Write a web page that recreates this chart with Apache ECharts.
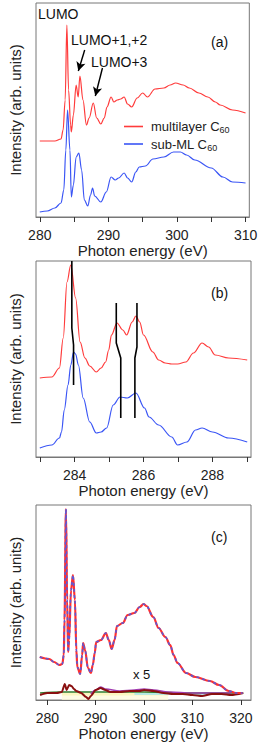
<!DOCTYPE html>
<html><head><meta charset="utf-8">
<script src="https://cdn.jsdelivr.net/npm/echarts@6/dist/echarts.min.js"></script>
<style>html,body{margin:0;padding:0;background:#fff}#c{width:260px;height:742px}</style>
</head><body><div id="c"></div>
<script>
// ---- Panel (a): NEXAFS spectra, [photon energy eV, intensity arb.] ----
const aMultilayer = [[280.0,76],[282.2,76],[283.1,78],[283.4,87],[283.7,117],[283.95,192],[284.2,127],[284.5,92],[284.6,85],[284.9,102],[285.3,132],[285.6,120],[285.85,141],[286.3,117],[286.8,92],[287.2,99],[287.8,114],[288.3,99],[288.9,93],[289.4,99],[289.8,110],[290.4,120],[290.8,115],[291.3,117],[291.8,118],[292.3,120],[292.8,113],[293.4,110],[294.2,119],[295.0,124],[295.7,120],[296.8,128],[298.1,129],[299.0,132],[299.8,134],[300.9,132],[301.8,129],[303.2,124],[304.5,120],[305.6,115],[306.3,112],[308.1,107],[310.0,104]];
const aSubML = [[280.0,5],[281.1,6],[282.2,9],[283.1,14],[283.5,27],[283.8,67],[284.05,107],[284.4,67],[284.6,20],[284.9,32],[285.3,60],[285.7,64],[286.1,47],[286.5,17],[287.0,11],[287.4,22],[287.7,29],[288.0,21],[288.9,15],[289.7,25],[290.4,40],[291.0,37],[291.5,39],[292.3,44],[292.8,39],[293.4,35],[294.0,45],[294.5,50],[295.4,51],[296.5,58],[298.1,60],[299.5,65],[300.5,65],[301.4,62],[302.6,57],[305.0,49],[306.7,40],[308.1,35],[310.0,34]];
const aTicks = [280,285,290,295,300,305,310];
const aLabels = [280,290,300,310];

// ---- Panel (b): zoom on the LUMO region ----
const bMultilayer = [[282.99,79],[283.34,80],[283.56,89],[283.67,119],[283.78,175],[283.89,192],[284.03,159],[284.16,115],[284.3,99],[284.44,91],[284.63,85],[284.77,89],[284.9,95],[284.99,107],[285.07,122],[285.23,134],[285.4,127],[285.51,122],[285.67,135],[285.78,141],[285.89,135],[286.0,122],[286.27,105],[286.44,97],[286.63,94],[286.82,93],[286.99,93],[287.23,95],[287.45,104],[287.7,114],[287.89,110],[288.08,102],[288.47,99],[289.01,97]];
const bSubML = [[282.99,9],[283.34,12],[283.56,19],[283.62,25],[283.7,47],[283.81,72],[283.89,92],[283.97,105],[284.03,103],[284.11,92],[284.25,59],[284.44,35],[284.63,24],[284.77,25],[284.93,29],[285.12,52],[285.32,60],[285.53,59],[285.78,64],[286.03,49],[286.16,40],[286.44,32],[286.82,20],[286.99,12],[287.26,15],[287.51,27],[287.7,29],[288.0,25],[288.47,19],[289.01,15]];
const bGuide1 = [[283.92,196],[283.92,129],[283.97,112],[283.97,72]];
const bGuide2 = [[285.21,154],[285.21,114],[285.34,99],[285.34,39]];
const bGuide3 = [[285.81,154],[285.81,110],[285.75,99],[285.75,39]];
const bTicks = [283,284,285,286,287,288,289];
const bLabels = [284,286,288];

// ---- Panel (c): overlaid spectra and difference traces (x 5) ----
const cSpectrum = [[278.44,43],[280.4,41],[281.4,38],[282.5,35],[283.1,36],[283.4,45],[283.55,80],[283.85,191],[284.1,100],[284.3,48],[284.5,60],[284.9,110],[285.3,125],[285.7,100],[286.0,50],[286.2,33],[286.8,26],[287.2,45],[287.4,57],[287.8,50],[288.4,32],[289.0,27],[289.4,35],[289.8,47],[290.1,58],[291.1,60],[292.1,67],[292.7,60],[293.3,51],[293.9,60],[294.4,74],[295.6,77],[296.6,85],[298.0,87],[299.1,93],[299.9,96],[300.5,94],[301.9,83],[303.0,72],[304.4,63],[305.4,55],[306.1,45],[306.9,37],[308.7,27],[310.6,23],[313.6,19],[315.5,15],[317.5,9],[319.0,7],[320.4,7]];
const cDiffRed = [[278.5,5],[280,7],[282,7],[283,8],[283.6,16],[284,10],[284.5,15],[285,14],[285.5,11],[286,9],[287,7],[288,3],[288.5,1],[289,4],[290,10],[291,12],[292,10],[293,8],[295,8],[297,9],[299,9],[300,10],[302,9],[304,7],[306,6],[308,6],[310,5],[312,4],[314,6],[316,6],[318,5],[320.5,7]];
const cDiffGreen = [[278.5,7],[283,8],[290,8],[300,8],[310,7],[315,7],[320.5,7]];
const cDiffPurple = [[289,6],[290,10],[291,13],[292,11],[295,9],[298,10],[300,11],[302,10],[305,8],[310,7],[318,7]];
const cDiffYellow = [[283,6],[290,6],[300,6],[305,6]];
const cDiffCyan = [[298,6],[305,6],[312,6],[318,6]];
const cTicks = [280,290,300,310,320];
const cLabels = [280,290,300,310,320];

const FONT = "'Liberation Sans', Arial, sans-serif";
const RED = '#ff3b3b', BLUE = '#3a55f5';

function xAx(grid, min, max, ticks, labels, nameGap) {
  return {
    type: 'value', gridIndex: grid, min: min, max: max, position: 'bottom',
    axisLine: {show: true, onZero: false, lineStyle: {color: '#777', width: 1}},
    axisTick: {show: true, length: 5, customValues: ticks, lineStyle: {color: '#333'}},
    axisLabel: {show: true, customValues: labels, margin: 11, fontSize: 14, color: '#222', fontFamily: FONT},
    splitLine: {show: false},
    name: 'Photon energy (eV)', nameLocation: 'middle', nameGap: nameGap,
    nameTextStyle: {fontSize: 15, color: '#222', fontFamily: FONT}
  };
}
function yAx(grid, max) {
  return {
    type: 'value', gridIndex: grid, min: 0, max: max,
    axisLine: {show: false}, axisTick: {show: false}, axisLabel: {show: false}, splitLine: {show: false},
    name: 'Intensity (arb. units)', nameLocation: 'middle', nameGap: 13,
    nameTextStyle: {fontSize: 15, color: '#222', fontFamily: FONT}
  };
}
function line(name, data, grid, color, width, extra) {
  return Object.assign({
    type: 'line', name: name, data: data, xAxisIndex: grid, yAxisIndex: grid,
    symbol: 'none', smooth: 0.35, smoothMonotone: 'x',
    lineStyle: {color: color, width: width}, itemStyle: {color: color}, z: 3
  }, extra || {});
}

const option = {
  animation: false,
  backgroundColor: '#fff',
  grid: [
    {left: 23, top: 3, width: 228, height: 214, show: true, borderColor: '#777', borderWidth: 1, backgroundColor: 'transparent'},
    {left: 23, top: 261, width: 228, height: 196, show: true, borderColor: '#777', borderWidth: 1, backgroundColor: 'transparent'},
    {left: 23, top: 505, width: 228, height: 195, show: true, borderColor: '#777', borderWidth: 1, backgroundColor: 'transparent'}
  ],
  xAxis: [
    xAx(0, 279.45, 310.55, aTicks, aLabels, 24),
    xAx(1, 282.88, 289.12, bTicks, bLabels, 24),
    xAx(2, 277.66, 322.1, cTicks, cLabels, 25)
  ],
  yAxis: [yAx(0, 214), yAx(1, 196), yAx(2, 195)],
  legend: {
    left: 119, top: 115, orient: 'vertical', icon: 'rect', itemWidth: 19, itemHeight: 1.6, itemGap: 3,
    data: ['multilayer', 'sub-ML'],
    formatter: function (n) { return n === 'multilayer' ? '{a|multilayer C}{s|60}' : '{a|sub-ML C}{s|60}'; },
    textStyle: {fontFamily: FONT, color: '#222', padding: [0,0,0,3],
      rich: {a: {fontSize: 13, fontFamily: FONT, color: '#222'}, s: {fontSize: 9, fontFamily: FONT, color: '#222', padding: [7,0,0,0]}}}
  },
  series: [
    line('multilayer', aMultilayer, 0, RED, 1.2, {
      markLine: {
        silent: true, symbol: ['none', 'arrow'], symbolSize: [7, 9],
        lineStyle: {color: '#000', width: 1.4, type: 'solid'}, label: {show: false},
        data: [
          [{coord: [286.55, 167]}, {coord: [285.62, 146]}],
          [{coord: [289.14, 149]}, {coord: [288.1, 121]}]
        ]
      }
    }),
    line('sub-ML', aSubML, 0, BLUE, 1.2),
    line('multilayer b', bMultilayer, 1, RED, 1.2),
    line('sub-ML b', bSubML, 1, BLUE, 1.2),
    line('g1', bGuide1, 1, '#000', 1.6, {smooth: false, z: 5}),
    line('g2', bGuide2, 1, '#000', 1.6, {smooth: false, z: 5}),
    line('g3', bGuide3, 1, '#000', 1.6, {smooth: false, z: 5}),
    line('yellow', cDiffYellow, 2, '#fbf7c0', 3, {smooth: false, areaStyle: {color: '#fdfbd8'}, z: 2}),
    line('cyan', cDiffCyan, 2, '#9ee6f0', 1.5, {z: 2}),
    line('green', cDiffGreen, 2, '#2f7d2f', 1.6, {z: 3}),
    line('purple', cDiffPurple, 2, '#a03cb0', 1.6, {z: 3}),
    line('darkred', cDiffRed, 2, '#8a1010', 2, {smooth: 0.2, z: 4}),
    line('spec red', cSpectrum, 2, '#ff3030', 2.2, {z: 5}),
    line('spec blue', cSpectrum, 2, '#5a5ad8', 1.6, {z: 6, lineStyle: {color: '#5a5ad8', width: 1.6, type: [3, 3]}})
  ],
  graphic: [
    {type: 'text', left: 38, top: 7, style: {text: 'LUMO', font: '14px ' + FONT, fill: '#111'}},
    {type: 'text', left: 71, top: 33, style: {text: 'LUMO+1,+2', font: '14px ' + FONT, fill: '#111'}},
    {type: 'text', left: 91, top: 55, style: {text: 'LUMO+3', font: '14px ' + FONT, fill: '#111'}},
    {type: 'text', left: 211, top: 35, style: {text: '(a)', font: '14px ' + FONT, fill: '#111'}},
    {type: 'text', left: 211, top: 286, style: {text: '(b)', font: '14px ' + FONT, fill: '#111'}},
    {type: 'text', left: 211, top: 530, style: {text: '(c)', font: '14px ' + FONT, fill: '#111'}},
    {type: 'text', left: 133, top: 668, style: {text: 'x 5', font: '13px ' + FONT, fill: '#111'}}
  ]
};
const chart = echarts.init(document.getElementById('c'), null, {renderer: 'svg', width: 260, height: 742});
chart.setOption(option);
</script></body></html>
